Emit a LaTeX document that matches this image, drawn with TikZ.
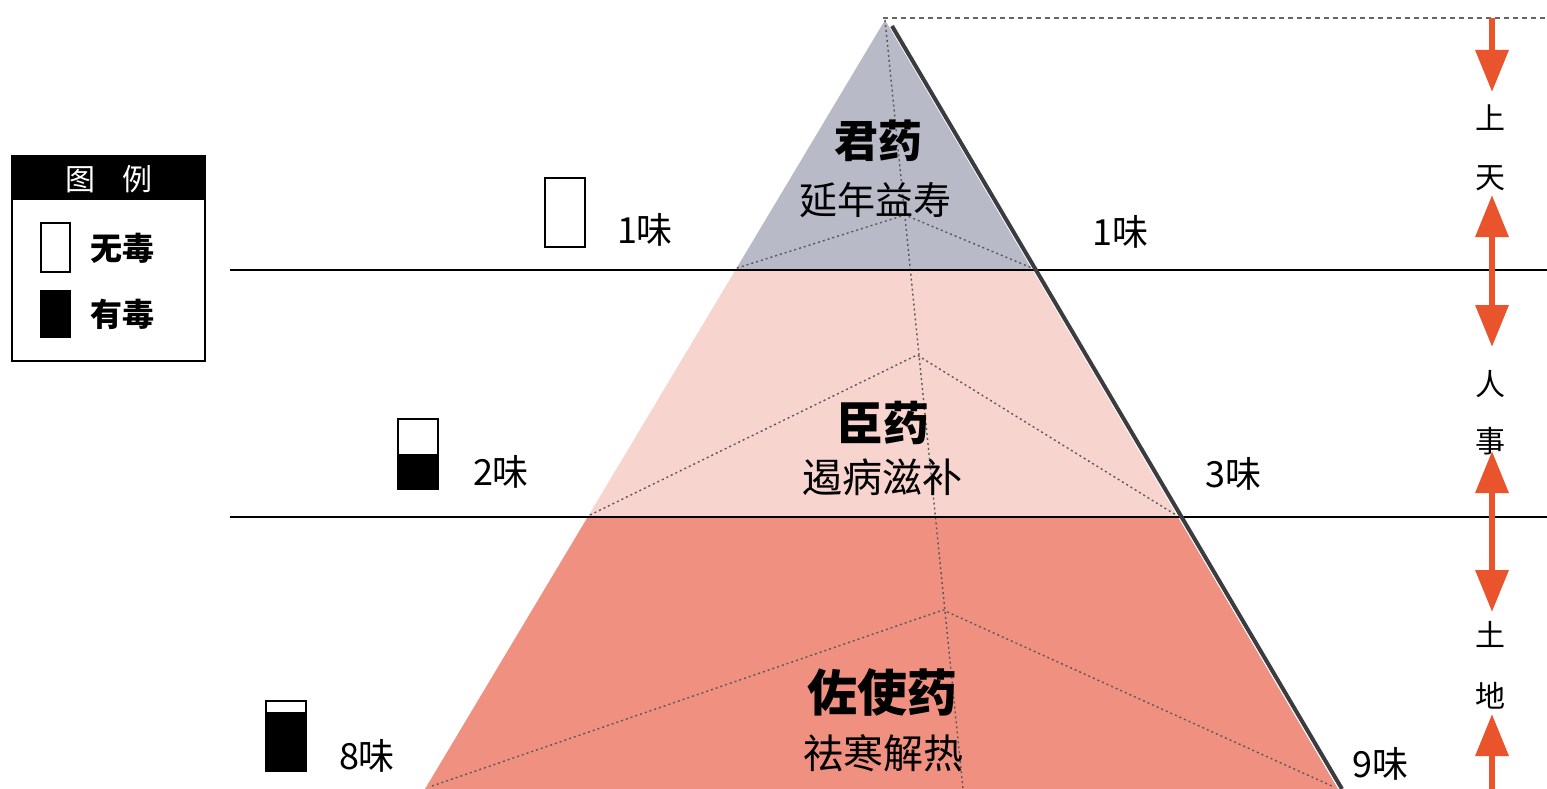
\documentclass[tikz,border=0pt]{standalone}
\usepackage{fontspec}
\setmainfont{Noto Sans CJK SC}
\newfontfamily\cjk{Noto Sans CJK SC}
\usetikzlibrary{arrows.meta}
\definecolor{topgrey}{RGB}{184,186,200}
\definecolor{midpink}{RGB}{248,212,207}
\definecolor{botsalmon}{RGB}{240,144,128}
\definecolor{arrowred}{RGB}{234,84,44}
\definecolor{edgegrey}{RGB}{60,60,64}
\tikzset{
  hline/.style={line width=2.8pt, black},
  dotline/.style={line width=1.4pt, draw=gray!70!black, dash pattern=on 2pt off 3pt},
  redarrow/.style={line width=6.5pt, draw=arrowred, -{Triangle[width=32pt,length=42pt]}},
  title/.style={font=\cjk\bfseries\fontsize{44}{48}\selectfont, inner sep=0pt},
  sub/.style={font=\cjk\fontsize{38}{42}\selectfont, inner sep=0pt},
  count/.style={font=\cjk\fontsize{36}{40}\selectfont, inner sep=0pt},
  side/.style={font=\cjk\fontsize{30}{34}\selectfont, inner sep=0pt},
  legtext/.style={font=\cjk\bfseries\fontsize{32}{36}\selectfont, inner sep=0pt},
  cup/.style={draw=black, line width=1.5pt, fill=white},
}
\begin{document}
\begin{tikzpicture}[x=1pt,y=-1pt]
\useasboundingbox (0,0) rectangle (1547,789);
\fill[white] (0,0) rectangle (1547,789);
% pyramid
\coordinate (A) at (885,20);
\coordinate (BL) at (425,789);
\coordinate (BR) at (1338,789);
\begin{scope}
  \clip (A) -- (BL) -- (BR) -- cycle;
  \fill[topgrey] (400,0) rectangle (1400,270);
  \fill[midpink] (400,270) rectangle (1400,517);
  \fill[botsalmon] (400,517) rectangle (1400,789);
\end{scope}
% hidden edges
\coordinate (back) at (963,789);
\draw[dotline] (A) -- (back);
\coordinate (t1) at (737,268); \coordinate (t2) at (905,215); \coordinate (t3) at (1032,268);
\draw[dotline] (t1) -- (t2) -- (t3);
\coordinate (m1) at (590,515); \coordinate (m2) at (917,355); \coordinate (m3) at (1176,515);
\draw[dotline] (m1) -- (m2) -- (m3);
\coordinate (b1) at (432,786); \coordinate (b2) at (943,610); \coordinate (b3) at (1334,787);
\draw[dotline] (b1) -- (b2) -- (b3);
% top dashed line
\coordinate (topR) at (1547,18);
\draw[gray!80!black, line width=1.2pt, dash pattern=on 5pt off 4pt] (883,18) -- (topR);
% horizontal lines
\coordinate (h1l) at (230,270); \coordinate (h1r) at (1547,270);
\coordinate (h2l) at (230,517); \coordinate (h2r) at (1547,517);
\draw[hline] (h1l) -- (h1r);
\draw[hline] (h2l) -- (h2r);
% dark right edge
\coordinate (e1) at (892,26); \coordinate (e2) at (1342,789);
\draw[edgegrey, line width=4pt] (e1) -- (e2);
% titles
\node[title] (t-jun) at (878,141) {君药};
\node[sub] (s-jun) at (875,200) {延年益寿};
\node[title, font=\cjk\bfseries\fontsize{46}{50}\selectfont] (t-chen) at (883,423) {臣药};
\node[sub, font=\cjk\fontsize{40}{44}\selectfont] (s-chen) at (882,477) {遏病滋补};
\node[title, font=\cjk\bfseries\fontsize{50}{54}\selectfont] (t-zuo) at (882,692) {佐使药};
\node[sub, font=\cjk\fontsize{40}{44}\selectfont] (s-zuo) at (883,753) {祛寒解热};
% counts
\node[count] (c1l) at (645,230) {1味};
\node[count] (c1r) at (1120,232) {1味};
\node[count] (c2) at (501,472) {2味};
\node[count] (c3) at (1233,474) {3味};
\node[count] (c8) at (367,756) {8味};
\node[count] (c9) at (1380,764) {9味};
% cups
\draw[cup] (545,178) rectangle (585,247);
\draw[cup] (398,419) rectangle (438,489);
\fill[black] (398,454) rectangle (438,489);
\draw[cup] (266,701) rectangle (306,771);
\fill[black] (266,712) rectangle (306,771);
% legend
\draw[line width=1.5pt] (12,156) rectangle (205,361);
\fill[black] (12,156) rectangle (205,200);
\node[font=\cjk\fontsize{30}{34}\selectfont, text=white, inner sep=0pt] (leg-title) at (109,179) {图\hspace{0.9em}例};
\draw[cup] (41,223) rectangle (70,272);
\node[legtext] (leg-w) at (122,248) {无毒};
\fill[black] (40,290) rectangle (71,338);
\node[legtext] (leg-b) at (122,314) {有毒};
% side arrows
\coordinate (a0) at (1492,18);
\coordinate (a1) at (1492,92);
\coordinate (a2s) at (1492,270);
\coordinate (a2) at (1492,195);
\coordinate (a3) at (1492,347);
\coordinate (a4s) at (1492,517);
\coordinate (a4) at (1492,451);
\coordinate (a5) at (1492,612);
\coordinate (a6s) at (1492,789);
\coordinate (a6) at (1492,714);
\draw[redarrow] (a0) -- (a1);
\draw[redarrow] (a2s) -- (a2);
\draw[redarrow] (a2s) -- (a3);
\draw[redarrow] (a4s) -- (a4);
\draw[redarrow] (a4s) -- (a5);
\draw[redarrow] (a6s) -- (a6);
\node[side] (s-shang) at (1490,118) {上};
\node[side] (s-tian) at (1490,178) {天};
\node[side] (s-ren) at (1490,384) {人};
\node[side] (s-shi) at (1490,441) {事};
\node[side] (s-tu) at (1490,634) {土};
\node[side] (s-di) at (1490,696) {地};
\end{tikzpicture}
\end{document}
